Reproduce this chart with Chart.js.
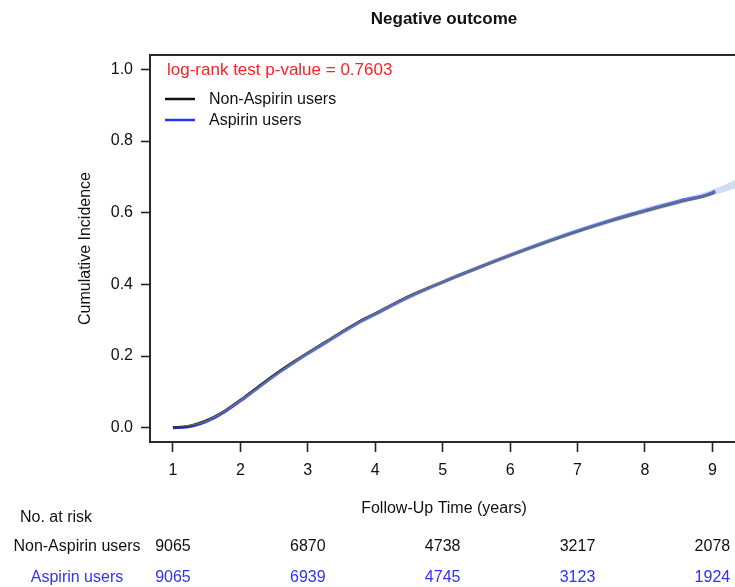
<!DOCTYPE html>
<html>
<head>
<meta charset="utf-8">
<title>Negative outcome</title>
<script src="https://cdn.jsdelivr.net/npm/chart.js@4/dist/chart.umd.min.js"></script>
<style>
  html, body { margin: 0; padding: 0; background: #fff; overflow: hidden; }
  #wrap { width: 745px; height: 587px; }
  canvas { display: block; }
</style>
</head>
<body>
<div id="wrap"><canvas id="cif" width="745" height="587"></canvas></div>
<script>
// Follow-up grid (years) and cumulative incidence per group
const followUpYears = [1.0, 1.2, 1.4, 1.6, 1.8, 2.0, 2.2, 2.4, 2.6, 2.8, 3.0, 3.25, 3.5, 3.75, 4.0, 4.5, 5.0, 5.5, 6.0, 6.5, 7.0, 7.5, 8.0, 8.5, 9.0, 9.04];
const nonAspirinInc = [0.000, 0.003, 0.013, 0.029, 0.051, 0.077, 0.105, 0.133, 0.160, 0.185, 0.209, 0.238, 0.267, 0.295, 0.319, 0.367, 0.407, 0.445, 0.481, 0.515, 0.547, 0.577, 0.604, 0.629, 0.653, 0.657];
const aspirinInc    = [0.000, 0.002, 0.011, 0.027, 0.049, 0.075, 0.103, 0.131, 0.158, 0.183, 0.207, 0.236, 0.265, 0.293, 0.317, 0.365, 0.406, 0.444, 0.481, 0.516, 0.549, 0.579, 0.606, 0.632, 0.656, 0.661];

// Confidence band of the aspirin curve
const bandYears = [1.0, 1.5, 2.0, 2.5, 3.0, 4.0, 5.0, 6.0, 7.0, 8.0, 9.0, 9.35];
const bandUpper = [0.000, 0.021, 0.079, 0.148, 0.212, 0.323, 0.412, 0.488, 0.556, 0.614, 0.664, 0.692];
const bandLower = [0.000, 0.016, 0.071, 0.138, 0.202, 0.311, 0.400, 0.474, 0.542, 0.598, 0.648, 0.668];

// Axis ticks
const xTickValues = [1, 2, 3, 4, 5, 6, 7, 8, 9];
const yTickValues = [0, 0.2, 0.4, 0.6, 0.8, 1.0];

// Numbers at risk
const riskYears = [1, 3, 5, 7, 9];
const riskNonAspirin = [9065, 6870, 4738, 3217, 2078];
const riskAspirin = [9065, 6939, 4745, 3123, 1924];

const groupNames = ['Non-Aspirin users', 'Aspirin users'];
const chartTitle = 'Negative outcome';
const pValueText = 'log-rank test p-value = 0.7603';

const BLACK = '#333333';
const BLUE = '#2233ff';
const BLUE_TEXT = '#3030ff';
const FONT = '"Liberation Sans", Arial, Helvetica, sans-serif';

const toXY = (xs, ys) => xs.map((x, i) => ({ x: x, y: ys[i] }));

const annotations = {
  id: 'annotations',
  afterDraw(chart) {
    const { ctx, chartArea: a, scales } = chart;
    const xs = scales.x;
    ctx.save();

    // plot frame
    ctx.strokeStyle = '#2a2a2a';
    ctx.lineWidth = 2;
    ctx.strokeRect(a.left, a.top, a.right - a.left, a.bottom - a.top);

    // title
    const cx = (a.left + a.right) / 2;
    ctx.fillStyle = '#111';
    ctx.textAlign = 'center';
    ctx.textBaseline = 'middle';
    ctx.font = 'bold 17px ' + FONT;
    ctx.fillText(chartTitle, cx, 19);

    // p-value
    ctx.textAlign = 'left';
    ctx.font = '17px ' + FONT;
    ctx.fillStyle = '#ff2020';
    ctx.fillText(pValueText, 167, 70);

    // legend
    ctx.font = '16px ' + FONT;
    const legendRows = [
      { label: groupNames[0], color: '#111', y: 99 },
      { label: groupNames[1], color: BLUE, y: 120 }
    ];
    legendRows.forEach(r => {
      ctx.strokeStyle = r.color;
      ctx.lineWidth = 2.5;
      ctx.beginPath();
      ctx.moveTo(165, r.y);
      ctx.lineTo(195, r.y);
      ctx.stroke();
      ctx.fillStyle = '#111';
      ctx.fillText(r.label, 209, r.y + 1);
    });

    // numbers at risk table
    ctx.fillStyle = '#111';
    ctx.textAlign = 'left';
    ctx.fillText('No. at risk', 20, 518);
    ctx.textAlign = 'center';
    ctx.fillText(groupNames[0], 77, 547);
    ctx.fillStyle = BLUE_TEXT;
    ctx.fillText(groupNames[1], 77, 578);
    riskYears.forEach((yr, i) => {
      const px = xs.getPixelForValue(yr);
      ctx.fillStyle = '#111';
      ctx.fillText(String(riskNonAspirin[i]), px, 547);
      ctx.fillStyle = BLUE_TEXT;
      ctx.fillText(String(riskAspirin[i]), px, 578);
    });
    ctx.restore();
  }
};

new Chart(document.getElementById('cif'), {
  type: 'line',
  data: {
    datasets: [
      {
        label: 'band-upper',
        data: toXY(bandYears, bandUpper),
        borderWidth: 0,
        pointRadius: 0,
        fill: false,
        cubicInterpolationMode: 'monotone'
      },
      {
        label: 'band-lower',
        data: toXY(bandYears, bandLower),
        borderWidth: 0,
        pointRadius: 0,
        fill: '-1',
        backgroundColor: 'rgba(150, 175, 235, 0.45)',
        cubicInterpolationMode: 'monotone'
      },
      {
        label: groupNames[0],
        data: toXY(followUpYears, nonAspirinInc),
        borderColor: BLACK,
        borderWidth: 2.4,
        pointRadius: 0,
        fill: false,
        cubicInterpolationMode: 'monotone'
      },
      {
        label: groupNames[1],
        data: toXY(followUpYears, aspirinInc),
        borderColor: BLUE,
        borderWidth: 3.2,
        pointRadius: 0,
        fill: false,
        cubicInterpolationMode: 'monotone'
      }
    ]
  },
  options: {
    responsive: false,
    devicePixelRatio: 1,
    animation: false,
    layout: { padding: { top: 55, left: 0, right: 7, bottom: 0 } },
    plugins: {
      legend: { display: false },
      title: { display: false },
      tooltip: { enabled: false }
    },
    scales: {
      x: {
        type: 'linear',
        min: 0.66,
        max: 9.38,
        afterFit(scale) { scale.height = 145; },
        afterBuildTicks(scale) { scale.ticks = xTickValues.map(v => ({ value: v })); },
        border: { display: false },
        grid: { display: true, drawOnChartArea: false, drawTicks: true, tickLength: 10, tickColor: '#222', tickWidth: 1.6 },
        ticks: { color: '#111', font: { family: FONT, size: 16 }, padding: 9, maxRotation: 0, autoSkip: false, callback: v => String(v) },
        title: { display: true, text: 'Follow-Up Time (years)', color: '#111', font: { family: FONT, size: 16 }, padding: { top: 4, bottom: 69 } }
      },
      y: {
        type: 'linear',
        min: -0.04,
        max: 1.04,
        afterFit(scale) { scale.width = 150; },
        afterBuildTicks(scale) { scale.ticks = yTickValues.map(v => ({ value: v })); },
        border: { display: false },
        grid: { display: true, drawOnChartArea: false, drawTicks: true, tickLength: 9, tickColor: '#222', tickWidth: 1.6 },
        ticks: { color: '#111', font: { family: FONT, size: 16 }, padding: 8, callback: v => Number(v).toFixed(1) },
        title: { display: true, text: 'Cumulative Incidence', color: '#111', font: { family: FONT, size: 16 }, padding: { top: 76, bottom: 4 } }
      }
    }
  },
  plugins: [annotations]
});
</script>
</body>
</html>
